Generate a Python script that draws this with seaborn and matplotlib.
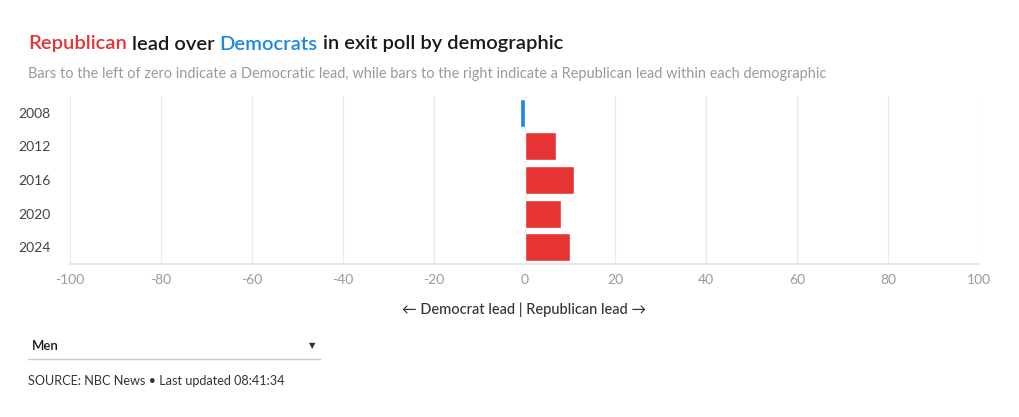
import matplotlib
matplotlib.use("Agg")
import matplotlib.pyplot as plt
import seaborn as sns
import pandas as pd
from matplotlib.lines import Line2D

years = ["2008", "2012", "2016", "2020", "2024"]
leads = [-1, 7, 11, 8, 10]
xticks = [-100, -80, -60, -40, -20, 0, 20, 40, 60, 80, 100]

RED = "#e63333"
BLUE = "#1c87e0"

sns.set_theme(style="white")
plt.rcParams["font.family"] = ["Lato", "DejaVu Sans"]

df = pd.DataFrame({"year": years, "lead": leads})
df["party"] = ["Dem" if v < 0 else "Rep" for v in df["lead"]]

fig = plt.figure(figsize=(10.2, 4.17), dpi=100)
ax = fig.add_axes([70 / 1020, 1 - 264 / 417, (979 - 70) / 1020, (264 - 96) / 417])

sns.barplot(data=df, x="lead", y="year", hue="party", orient="h",
            palette={"Dem": BLUE, "Rep": RED}, dodge=False, width=0.83,
            edgecolor="white", linewidth=1, legend=False, ax=ax, saturation=1)

ax.set_xlim(-100, 100)
ax.set_xticks(xticks)
ax.set_xticklabels([str(t) for t in xticks])
ax.grid(axis="x", color="#ebebeb", linewidth=1)
ax.set_axisbelow(True)
for s in ["top", "right", "left"]:
    ax.spines[s].set_visible(False)
ax.spines["bottom"].set_color("#e3e3e3")
ax.tick_params(axis="x", length=0, labelsize=10, colors="#9a9a9a", pad=7)
ax.tick_params(axis="y", length=0, labelsize=10, colors="#444444", pad=14)
ax.set_ylabel("")
ax.set_xlabel("← Democrat lead | Republican lead →", fontsize=10.5, color="#333333",
              labelpad=12, fontweight="medium")

# Title with coloured parts
renderer = fig.canvas.get_renderer()
parts = [("Republican", RED), (" lead over ", "#1a1a1a"), ("Democrats", BLUE),
         (" in exit poll by demographic", "#1a1a1a")]
x = 28 / 1020
for txt, col in parts:
    t = fig.text(x, 1 - 44 / 417, txt, color=col, fontsize=14.5, fontweight="semibold",
                 va="center", ha="left")
    bb = t.get_window_extent(renderer=renderer)
    x += bb.width / 1020

fig.text(28 / 1020, 1 - 74 / 417,
         "Bars to the left of zero indicate a Democratic lead, while bars to the right indicate a Republican lead within each demographic",
         color="#9a9a9a", fontsize=10.45, fontweight="normal", va="center", ha="left")

# dropdown
fig.text(32 / 1020, 1 - 346 / 417, "Men", color="#1a1a1a", fontsize=9.5,
         fontweight="semibold", va="center", ha="left")
fig.text(312 / 1020, 1 - 346 / 417, "▼", color="#333333", fontsize=6,
         va="center", ha="center", family="DejaVu Sans")
fig.add_artist(Line2D([28 / 1020, 320 / 1020], [1 - 359 / 417, 1 - 359 / 417],
                      color="#c8c8c8", linewidth=1, transform=fig.transFigure))

fig.text(28 / 1020, 1 - 381 / 417, "SOURCE: NBC News • Last updated 08:41:34",
         color="#333333", fontsize=9.1, va="center", ha="left")

fig.savefig("out.png", dpi=100, facecolor="white")
